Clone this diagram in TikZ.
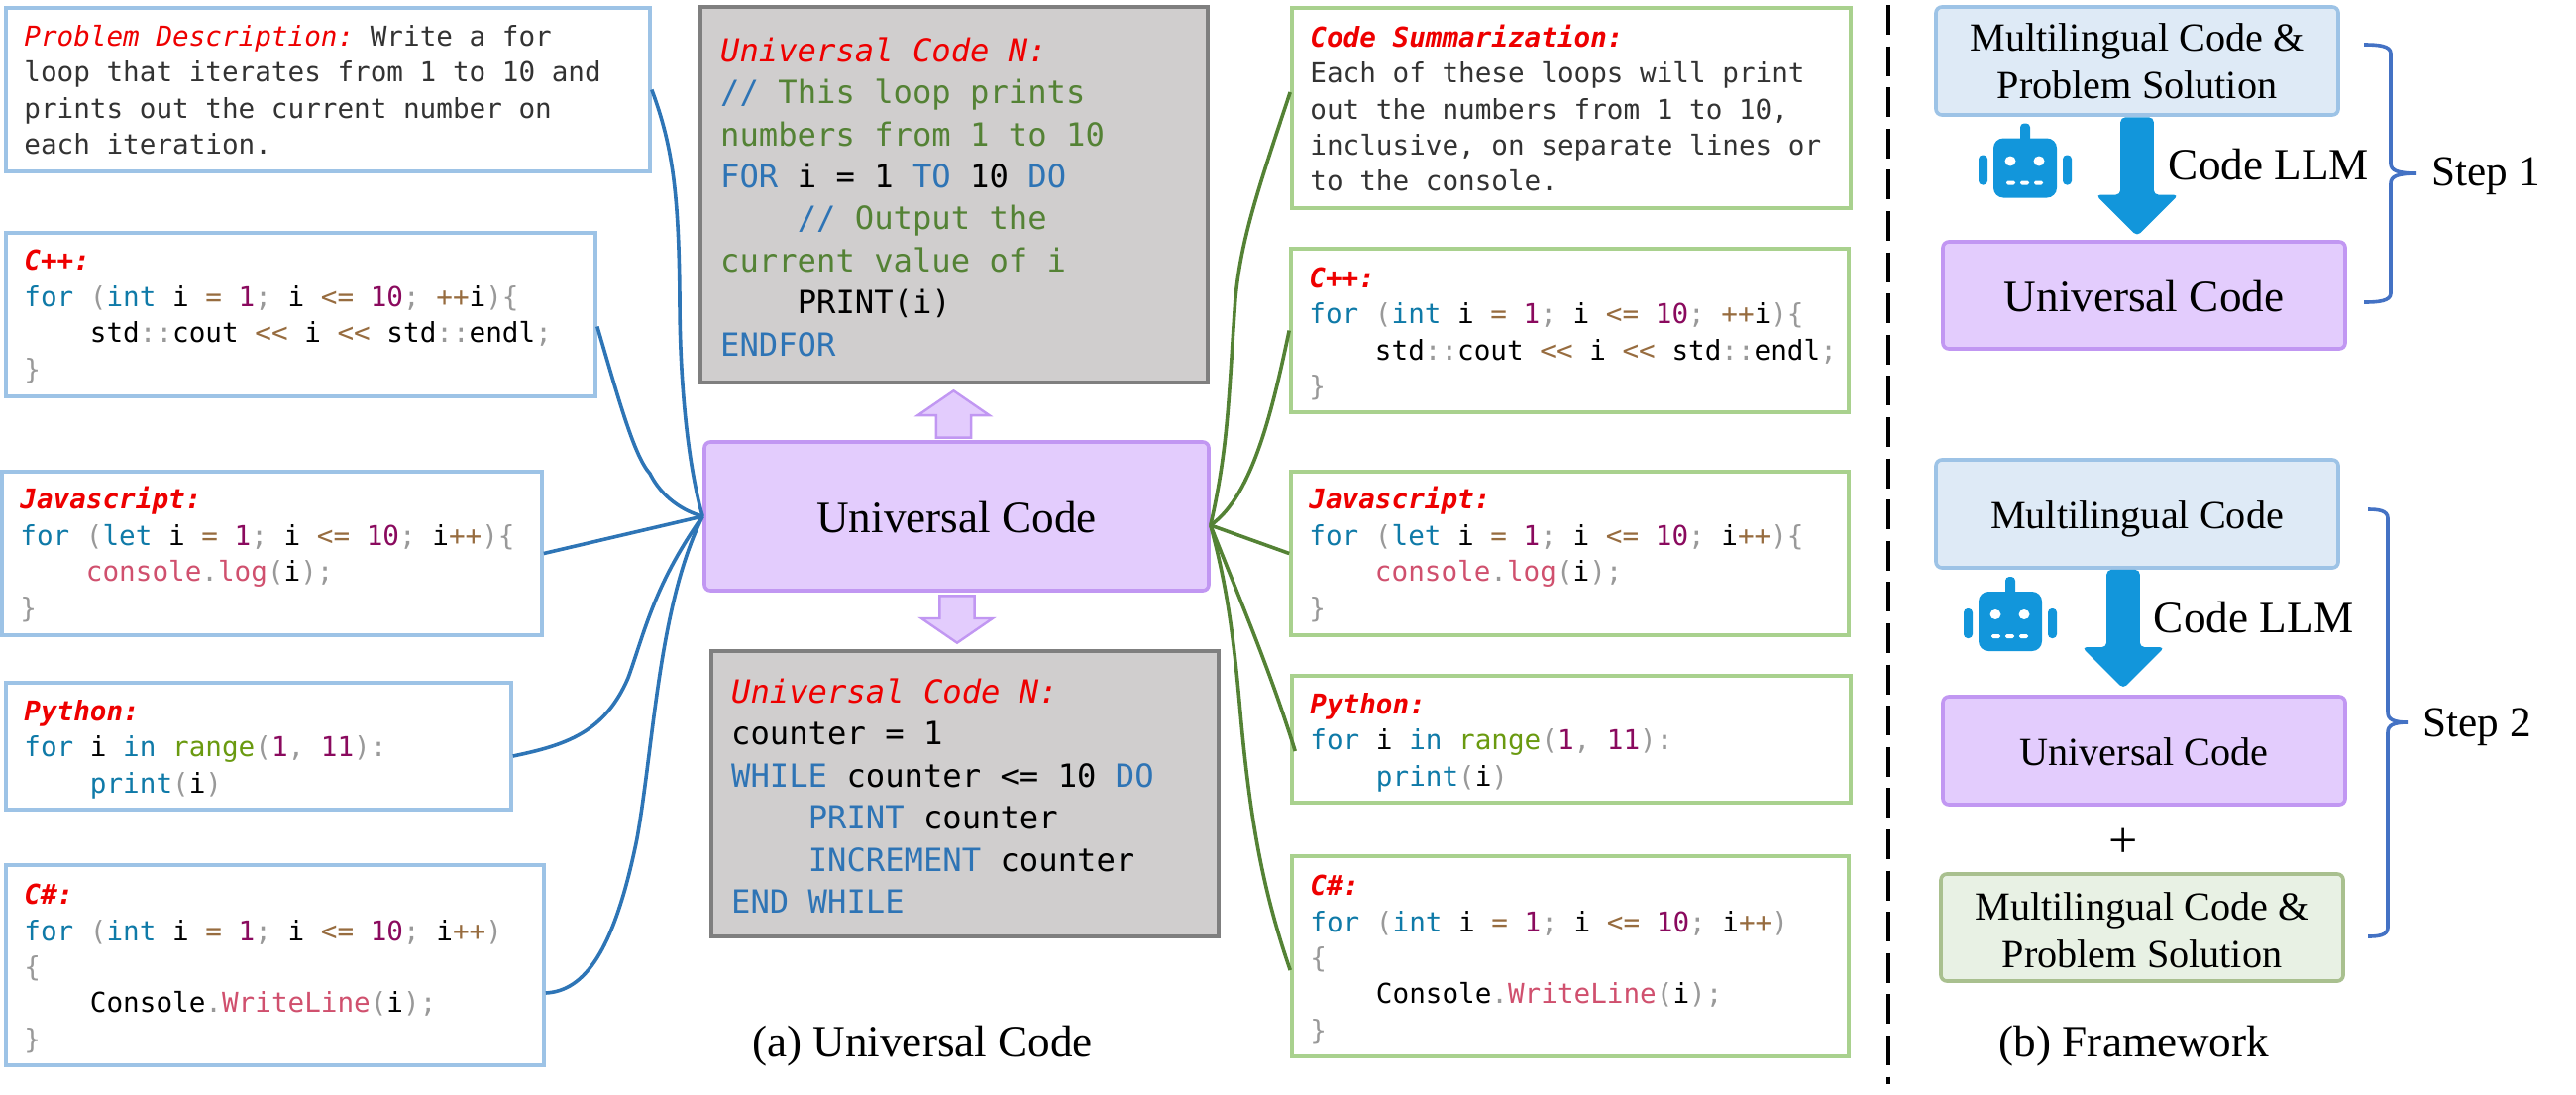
\documentclass[tikz,border=0pt]{standalone}
\usepackage{fontspec}
\setmainfont{Liberation Serif}
\setmonofont{DejaVu Sans Mono}
\usetikzlibrary{shapes.arrows}
\definecolor{codekw}{HTML}{0F7AA8}
\definecolor{codeop}{HTML}{976C3F}
\definecolor{codenum}{HTML}{8A0A5E}
\definecolor{codepun}{HTML}{999999}
\definecolor{codefn}{HTML}{D0506E}
\definecolor{codegrn}{HTML}{6A9A10}
\definecolor{labelred}{HTML}{EE0000}
\definecolor{plainkw}{HTML}{2E74B5}
\definecolor{plaincm}{HTML}{548235}
\definecolor{blueline}{HTML}{9DC3E6}
\definecolor{bluefill}{HTML}{DEEAF6}
\definecolor{greenline}{HTML}{A9D18E}
\definecolor{sageline}{HTML}{A9C08F}
\definecolor{sagefill}{HTML}{E8F1E4}
\definecolor{hubline}{HTML}{C197F2}
\definecolor{hubfill}{HTML}{E3CCFD}
\definecolor{grayline}{HTML}{7F7F7F}
\definecolor{grayfill}{HTML}{D0CECE}
\definecolor{llmblue}{HTML}{1296DB}
\definecolor{bracecol}{HTML}{4472C4}
\definecolor{bluewire}{HTML}{2E75B6}
\definecolor{greenwire}{HTML}{548235}
\newcommand{\kw}[1]{\textcolor{codekw}{#1}}
\newcommand{\op}[1]{\textcolor{codeop}{#1}}
\newcommand{\nm}[1]{\textcolor{codenum}{#1}}
\newcommand{\pun}[1]{\textcolor{codepun}{#1}}
\newcommand{\fn}[1]{\textcolor{codefn}{#1}}
\newcommand{\grn}[1]{\textcolor{codegrn}{#1}}
\newcommand{\pk}[1]{\textcolor{plainkw}{#1}}
\newcommand{\pc}[1]{\textcolor{plaincm}{#1}}
\newcommand{\lang}[1]{\textcolor{labelred}{\bfseries\itshape #1}}
\newcommand{\head}[1]{\textcolor{labelred}{\itshape #1}}
\newcommand{\ind}{\phantom{xxxx}}
\newcommand{\nudge}[1][1em]{\rule{0pt}{#1}}
\tikzset{
  monotext/.style={execute at begin node={\spaceskip=0.602em\relax\xspaceskip=0.602em\relax}},
  codebox/.style={draw=#1,line width=.9pt,fill=white,inner xsep=4.6pt,inner ysep=0pt,align=left,monotext,
    font=\ttfamily\fontsize{6.91}{9.1}\selectfont},
  graybox/.style={draw=grayline,line width=1pt,fill=grayfill,inner xsep=5.1pt,inner ysep=0pt,align=left,monotext,
    text width=117.9pt,minimum width=128.1pt,font=\ttfamily\fontsize{8.05}{10.6}\selectfont},
  framebox/.style n args={3}{draw=#1,fill=#2,line width=.9pt,rounded corners=1.5pt,inner sep=0pt,
    align=center,minimum width=101.5pt,minimum height=#3,font=\fontsize{10.05}{12}\selectfont},
  hubbox/.style={framebox={hubline}{hubfill}{27pt}},
  bluebox/.style={framebox={blueline}{bluefill}{27.25pt}},
  sagebox/.style={framebox={sageline}{sagefill}{27pt}},
  bluelink/.style={draw=bluewire,line width=.9pt},
  greenlink/.style={draw=greenwire,line width=.9pt},
  hubarrow/.style={single arrow,draw=hubline,fill=hubfill,line width=.6pt,inner sep=4.1pt,
    minimum width=17.5pt,minimum height=11.5pt,single arrow head extend=4.6pt,single arrow tip angle=111},
  llmarrow/.style={single arrow,fill=llmblue,inner sep=4pt,shape border rotate=270,rounded corners=1.2pt,
    minimum width=20.5pt,minimum height=30pt,single arrow head extend=6.25pt,single arrow tip angle=90},
  bigtext/.style={font=\fontsize{11.3}{13}\selectfont,anchor=base,inner sep=0pt},
  bracket/.style={draw=bracecol,line width=.9pt},
  robot/.pic={
    \fill[llmblue,rounded corners=2.5pt] (-32,-30) rectangle (32,30);
    \fill[llmblue,rounded corners=1pt] (-5,-45) rectangle (5,-25);
    \fill[llmblue,rounded corners=1pt] (-47,-13) rectangle (-38,17);
    \fill[llmblue,rounded corners=1pt] (38,-13) rectangle (47,17);
    \fill[white] (-15,-7) ellipse [x radius=5.5,y radius=5];
    \fill[white] (14,-7) ellipse [x radius=5.5,y radius=5];
    \fill[white,rounded corners=.4pt] (-19,13) rectangle (-10,17);
    \fill[white,rounded corners=.4pt] (-5,13) rectangle (4,17);
    \fill[white,rounded corners=.4pt] (9,13) rectangle (18,17);
  }
}
\begin{document}
\begin{tikzpicture}[x=0.25pt,y=-0.25pt]
\useasboundingbox (0,0) rectangle (2600,1104);

\node[codebox=blueline,text width=153.3pt,minimum height=41.25pt,text=black!80] (prob) at (331,90.5)
  {\head{Problem Description:} Write a for\\loop that iterates from 1 to 10 and\\prints out the current number on\\each iteration.};
\node[codebox=blueline,text width=139.55pt,minimum height=41.25pt] (cppl) at (303.5,317.5)
  {\nudge[.88em]\lang{C++:}\\\kw{for} \pun{(}\kw{int} i \op{=} \nm{1}\pun{;} i \op{<=} \nm{10}\pun{;} \op{++}i\pun{)\{}\\\ind std\pun{::}cout \op{<<} i \op{<<} std\pun{::}endl\pun{;}\\\pun{\}}};
\node[codebox=blueline,text width=127.05pt,minimum height=41.25pt] (jsl) at (274.5,558.5)
  {\nudge[.88em]\lang{Javascript:}\\\kw{for} \pun{(}\kw{let} i \op{=} \nm{1}\pun{;} i \op{<=} \nm{10}\pun{;} i\op{++}\pun{)\{}\\\ind \fn{console}\pun{.}\fn{log}\pun{(}i\pun{);}\\\pun{\}}};
\node[codebox=blueline,text width=118.3pt,minimum height=32pt] (pyl) at (261,753)
  {\nudge\lang{Python:}\\\kw{for} i \kw{in} \grn{range}\pun{(}\nm{1}\pun{,} \nm{11}\pun{):}\\\ind \kw{print}\pun{(}i\pun{)}};
\node[codebox=blueline,text width=126.55pt,minimum height=50.5pt] (csl) at (277.5,974)
  {\nudge\lang{C\#:}\\\kw{for} \pun{(}\kw{int} i \op{=} \nm{1}\pun{;} i \op{<=} \nm{10}\pun{;} i\op{++}\pun{)}\\\pun{\{}\\\ind Console\pun{.}\fn{WriteLine}\pun{(}i\pun{);}\\\pun{\}}};

\node[codebox=greenline,text width=131.8pt,minimum height=50.5pt,text=black!80] (summ) at (1586,109)
  {\lang{Code Summarization:}\\Each of these loops will print\\out the numbers from 1 to 10,\\inclusive, on separate lines or\\to the console.};
\node[codebox=greenline,text width=131.55pt,minimum height=41.25pt] (cppr) at (1584.5,333.5)
  {\nudge\lang{C++:}\\\kw{for} \pun{(}\kw{int} i \op{=} \nm{1}\pun{;} i \op{<=} \nm{10}\pun{;} \op{++}i\pun{)\{}\\\ind std\pun{::}cout~\op{<<}~i~\op{<<}~std\pun{::}endl\pun{;}\\\pun{\}}};
\node[codebox=greenline,text width=131.55pt,minimum height=41.25pt] (jsr) at (1584.5,558.5)
  {\nudge[.88em]\lang{Javascript:}\\\kw{for} \pun{(}\kw{let} i \op{=} \nm{1}\pun{;} i \op{<=} \nm{10}\pun{;} i\op{++}\pun{)\{}\\\ind \fn{console}\pun{.}\fn{log}\pun{(}i\pun{);}\\\pun{\}}};
\node[codebox=greenline,text width=131.8pt,minimum height=32pt] (pyr) at (1586,746)
  {\nudge\lang{Python:}\\\kw{for} i \kw{in} \grn{range}\pun{(}\nm{1}\pun{,} \nm{11}\pun{):}\\\ind \kw{print}\pun{(}i\pun{)}};
\node[codebox=greenline,text width=131.3pt,minimum height=50.5pt] (csr) at (1585,965)
  {\nudge\lang{C\#:}\\\kw{for} \pun{(}\kw{int} i \op{=} \nm{1}\pun{;} i \op{<=} \nm{10}\pun{;} i\op{++}\pun{)}\\\pun{\{}\\\ind Console\pun{.}\fn{WriteLine}\pun{(}i\pun{);}\\\pun{\}}};

\node[graybox,minimum height=94.75pt] (ucfor) at (963,196.5)
  {\nudge[.9em]\head{Universal Code N:}\\\pk{//} \pc{This loop prints}\\\pc{numbers from 1 to 10}\\\pk{FOR} i = 1 \pk{TO} 10 \pk{DO}\\\ind \pk{//} \pc{Output the}\\\pc{current value of i}\\\ind PRINT(i)\\\pk{ENDFOR}};
\node[graybox,minimum height=72pt] (ucwhile) at (974,801)
  {\nudge[.9em]\head{Universal Code N:}\\counter = 1\\\pk{WHILE} counter <= 10 \pk{DO}\\\ind \pk{PRINT} counter\\\ind \pk{INCREMENT} counter\\\pk{END WHILE}};

\node[framebox={hubline}{hubfill}{37.5pt},minimum width=127.25pt,font=\fontsize{11.3}{13}\selectfont] (hub) at (965.5,521) {\nudge[.74em]Universal Code};
\node[hubarrow,shape border rotate=90] (uparrow) at (962.5,424) {};
\node[hubarrow,shape border rotate=270] (downarrow) at (966,619) {};

\draw[bluelink] (prob.east) .. controls (680,150) and (685,200) .. (686,300) .. controls (686,400) and (697,480) .. (hub.west);
\draw[bluelink] ([yshift=-3pt]cppl.east) .. controls (625,405) and (640,460) .. (656,478) .. controls (668,502) and (690,516) .. (hub.west);
\draw[bluelink] (jsl.east) -- (hub.west);
\draw[bluelink] ([yshift=-2.5pt]pyl.east) .. controls (570,752) and (610,740) .. (634,684) .. controls (650,640) and (660,590) .. (hub.west);
\draw[bluelink] ([yshift=-7pt]csl.east) .. controls (590,1000) and (620,960) .. (643,846) .. controls (660,750) and (665,610) .. (hub.west);

\coordinate (hubr) at ([yshift=-2.25pt]hub.east);
\draw[greenlink] ([yshift=4pt]summ.west) .. controls (1270,190) and (1253,240) .. (1247,300) .. controls (1240,400) and (1240,450) .. (hubr);
\draw[greenlink] (cppr.west) .. controls (1285,410) and (1265,500) .. (hubr);
\draw[greenlink] (jsr.west) -- (hubr);
\draw[greenlink] ([xshift=1.25pt,yshift=-3pt]pyr.west) .. controls (1280,670) and (1245,590) .. (hubr);
\draw[greenlink] ([yshift=-3.5pt]csr.west) .. controls (1275,900) and (1262,830) .. (1252,720) .. controls (1245,640) and (1238,590) .. (hubr);

\node[bigtext] (capa) at (931,1066.5) {(a) Universal Code};
\node[bigtext] (capb) at (2154,1066.5) {(b) Framework};

\draw[line width=.9pt,dash pattern=on 7.5pt off 2.9pt] (1906,5) -- (1906,1094);

\node[bluebox] (multi1) at (2157,61.5) {Multilingual Code \&\\Problem Solution};
\node[hubbox,font=\fontsize{11.3}{13}\selectfont] (uni1) at (2164,298) {\nudge[.74em]Universal Code};
\node[llmarrow] (llm1) at (2157,170) {};
\pic at (2044,169.5) {robot};
\node[bigtext] (llmtext1) at (2290,181.5) {Code LLM};

\node[bluebox] (multi2) at (2157,518.5) {\nudge[.98em]Multilingual Code};
\node[hubbox,minimum height=27.25pt] (uni2) at (2164,757.5) {\nudge[.75em]Universal Code};
\node[llmarrow] (llm2) at (2143,626.5) {};
\pic at (2029,627) {robot};
\node[bigtext] (llmtext2) at (2275,638.5) {Code LLM};
\node[font=\fontsize{13}{15}\selectfont,inner sep=0pt] (plus) at (2143,851) {+};
\node[sagebox] (multi3) at (2162,936) {\nudge[.84em]Multilingual Code \&\\Problem Solution};

\coordinate (brace1top) at (2386,45);
\coordinate (brace1bot) at (2386,305);
\coordinate (brace2top) at (2390,514);
\coordinate (brace2bot) at (2390,945);
\node[bigtext,font=\fontsize{10.8}{13}\selectfont] (step1) at (2509,187.5) {Step 1};
\node[bigtext,font=\fontsize{10.8}{13}\selectfont] (step2) at (2500,743) {Step 2};
\draw[bracket] (brace1top) .. controls (2400,45) and (2413,46) .. (2413,54) -- (2413,165) .. controls (2413,172) and (2420,175) .. (2439,175) .. controls (2420,175) and (2413,178) .. (2413,185) -- (2413,296) .. controls (2413,304) and (2400,305) .. (brace1bot);
\draw[bracket] (brace2top) .. controls (2400,514) and (2410,515) .. (2410,523) -- (2410,719) .. controls (2410,726) and (2416,729) .. (2430,729) .. controls (2416,729) and (2410,732) .. (2410,739) -- (2410,936) .. controls (2410,944) and (2400,945) .. (brace2bot);
\end{tikzpicture}
\end{document}
